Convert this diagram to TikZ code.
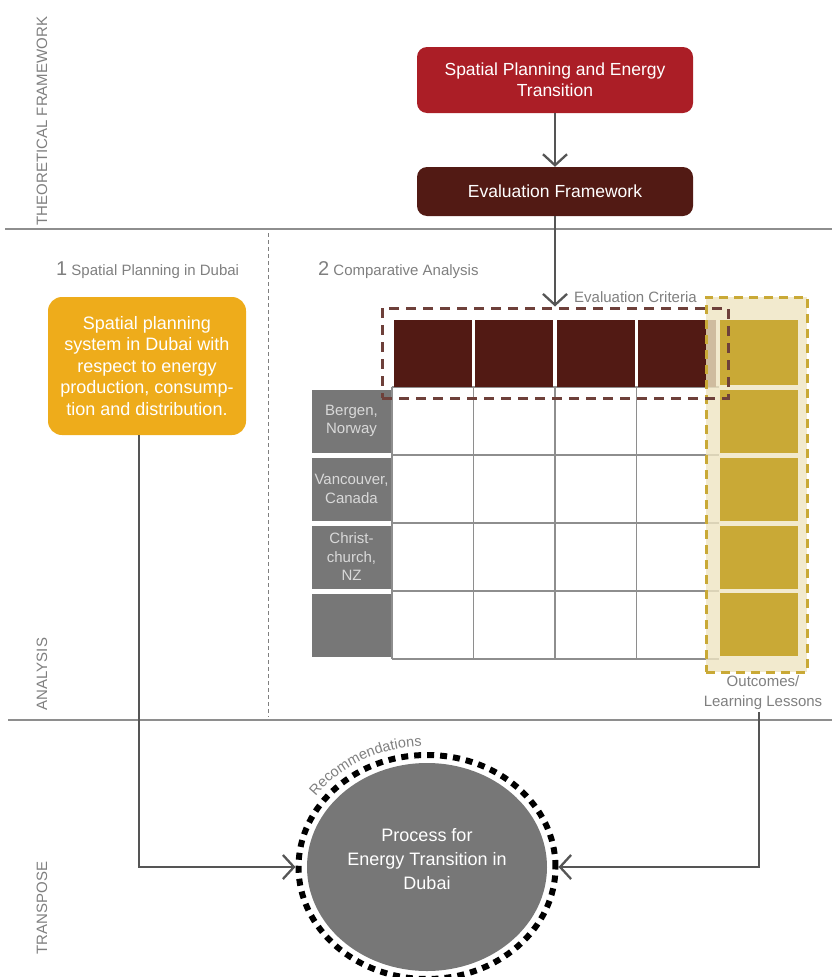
\documentclass[tikz,border=0pt]{standalone}
\usepackage{fontspec}
\setmainfont{Liberation Sans}
\usetikzlibrary{positioning,shapes.geometric,arrows.meta,decorations.text}

\definecolor{topred}{HTML}{AB1E26}
\definecolor{evalbrown}{HTML}{521A14}
\definecolor{dubaiyellow}{HTML}{EEAC1B}
\definecolor{outgold}{HTML}{C9A936}
\definecolor{outshade}{HTML}{EFE5C2}
\definecolor{citygray}{HTML}{777777}
\definecolor{labelgray}{HTML}{7F7F7F}
\definecolor{linegray}{HTML}{8E8E8E}
\definecolor{arrowgray}{HTML}{555555}
\definecolor{critbrown}{HTML}{6E403A}

\newcommand{\fsz}[2]{\fontsize{#1}{#2}\selectfont}

\begin{document}
\begin{tikzpicture}[x=1pt,y=1pt,
    topbox/.style={rounded corners=10pt,inner sep=0pt,text=white,align=center,
      minimum width=276pt,font=\fsz{17.5}{21}},
    critcell/.style={fill=evalbrown,minimum width=78pt,minimum height=67pt,inner sep=0pt},
    citycell/.style={fill=citygray,minimum width=79pt,minimum height=63pt,inner sep=0pt,
      text=white!85!black,align=center,font=\fsz{15}{18.5}},
    goldcell/.style={fill=outgold,minimum width=78pt,inner sep=0pt},
    lbl/.style={text=labelgray,font=\fsz{15}{20},inner sep=1pt},
    sidelbl/.style={text=labelgray,font=\fsz{15}{15},rotate=90,inner sep=0pt},
    gridline/.style={draw=linegray,line width=1.2pt},
    divider/.style={draw=linegray,line width=1.5pt},
    conn/.style={draw=arrowgray,line width=2.3pt,
      -{Straight Barb[length=11pt,width=24pt]}}
    ]

  \useasboundingbox (0,0) rectangle (832,-977);

  % section dividers:
  \draw[divider] (5,-229) -- (832,-229);
  \draw[divider] (8,-720) -- (832,-720);
  \draw[draw=labelgray,line width=0.8pt,dash pattern=on 4pt off 3pt] (268,-233) -- (268,-717);

  % side labels:
  \node (lthe) at (42,-121) [sidelbl] {THEORETICAL FRAMEWORK};
  \node (lana) at (42,-674) [sidelbl] {ANALYSIS};
  \node (ltra) at (42,-908) [sidelbl] {TRANSPOSE};

  % theoretical framework:
  \node (toptopic) at (555,-80) [topbox,fill=topred,minimum height=66pt]
    {Spatial Planning and Energy\\Transition};
  \node (evalfw) at (555,-191.5) [topbox,fill=evalbrown,minimum height=49pt]
    {Evaluation Framework};

  % section titles:
  \node (sec1) at (55,-270) [lbl,anchor=west] {{\fsz{20}{20}1} Spatial Planning in Dubai};
  \node (sec2) at (317,-270) [lbl,anchor=west] {{\fsz{20}{20}2} Comparative Analysis};
  \node (crittitle) at (573,-297) [lbl,anchor=west] {Evaluation Criteria};

  % spatial planning in dubai:
  \node (dubai) at (147,-366) [rounded corners=14pt,fill=dubaiyellow,minimum width=198pt,
    minimum height=138pt,inner sep=0pt,text=white,align=center,font=\fsz{18}{21.5}]
    {Spatial planning\\system in Dubai with\\respect to energy\\production, consump-\\tion and distribution.};

  % grid:
  \foreach \y in {387,455,523,591,659}
    \draw[gridline] (392,-\y) -- (719,-\y);
  \foreach \x in {392,473.5,555,636.5}
    \draw[gridline] (\x,-387) -- (\x,-659);

  % criteria cells:
  \foreach \x [count=\i] in {432.75,514.25,595.75,677.25}
    \node (c\i) at (\x,-353.5) [critcell] {};

  % city cells:
  \foreach \y/\t [count=\i] in {421/{Bergen,\\Norway},489/{Vancouver,\\Canada},
      557/{Christ-\\church,\\NZ},625/{}}
    \node (city\i) at (351.5,-\y) [citycell] {\t};

  % outcomes column:
  \node (outcol) at (756.5,-484.5) [fill=outshade,fill opacity=0.8,draw=outgold,
    line width=3pt,dash pattern=on 9pt off 6pt,minimum width=101pt,
    minimum height=375pt,inner sep=0pt] {};
  \node (o0) at (759,-352.5) [goldcell,minimum height=65pt] {};
  \foreach \y [count=\i] in {421,489,557,624}
    \node (o\i) at (759,-\y) [goldcell,minimum height=63pt] {};

  \node (outcome) at (763,-693) [lbl,align=center,inner sep=2pt] {Outcomes/\\Learning Lessons};

  % criteria frame:
  \node (crit) at (555,-353) [draw=critbrown,line width=3pt,dash pattern=on 10pt off 7pt,
    minimum width=346pt,minimum height=90pt,inner sep=0pt] {};

  % transpose:
  \node (ring) at (427,-867) [ellipse,draw=black,line width=6pt,dash pattern=on 7pt off 6pt,
    minimum width=257pt,minimum height=224pt,inner sep=0pt] {};
  \node (process) at (ring.center) [ellipse,fill=citygray,minimum width=240pt,
    minimum height=208pt,inner sep=0pt] {};
  \node (proctext) at ([yshift=8pt]process.center) [text=white,align=center,font=\fsz{18}{24}]
    {Process for\\Energy Transition in\\Dubai};
  \path[decorate,decoration={text along path,text align=center,
      text={|\fontsize{14.5}{14.5}\selectfont\color{labelgray}|Recommendations}}]
    (ring.center) ++(151:137 and 121) arc[start angle=151,end angle=86,x radius=137pt,y radius=121pt];

  % connectors:
  \draw[conn] (toptopic) -- (evalfw);
  \draw[conn] (evalfw) -- (evalfw |- crit.north);
  \draw[conn] ([xshift=-8pt]dubai.south) |- (ring.west);
  \draw[conn] ([xshift=-4pt]outcome.south) |- (ring.east);

\end{tikzpicture}
\end{document}
